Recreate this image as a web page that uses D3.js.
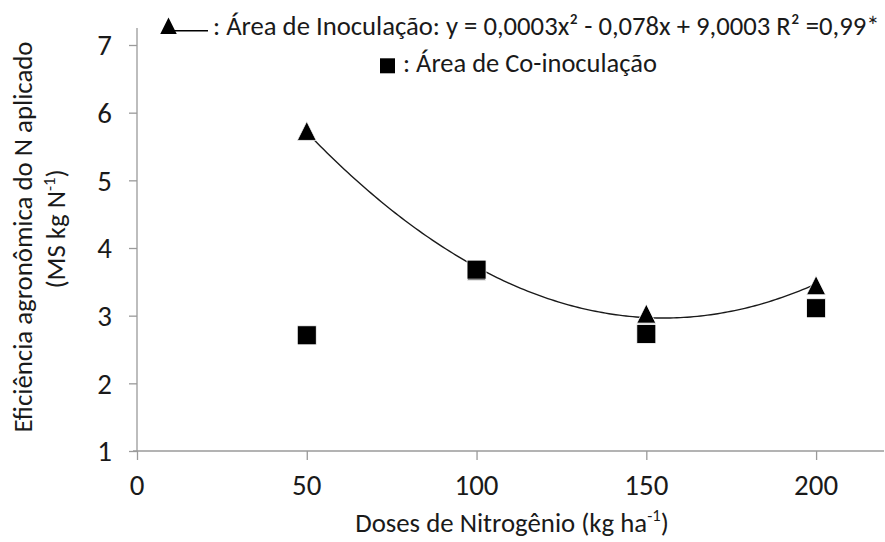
<!DOCTYPE html>
<html>
<head>
<meta charset="utf-8">
<script src="https://cdn.jsdelivr.net/npm/d3@7"></script>
<style>
  html, body { margin: 0; padding: 0; background: #fff; }
  svg { display: block; }
  text { font-family: Carlito, Calibri, "Open Sans", "Noto Sans", sans-serif; fill: #1a1a1a; }
</style>
</head>
<body>
<script>
// Nitrogen doses (kg/ha)
const doses = [50, 100, 150, 200];
// Agronomic efficiency, inoculated area (triangles)
const inoculacao = [5.73, 3.66, 3.03, 3.45];
// Agronomic efficiency, co-inoculated area (squares)
const coinoculacao = [2.71, 3.68, 2.73, 3.11];
// Axis ticks
const xTicks = [0, 50, 100, 150, 200];
const yTicks = [1, 2, 3, 4, 5, 6, 7];

const W = 885, H = 542;
const svg = d3.select("body").append("svg").attr("width", W).attr("height", H);

const x = d3.scaleLinear().domain([0, 220]).range([137, 884]);
const y = d3.scaleLinear().domain([1, 7]).range([451, 45]);

const axisColor = "#9a9a9a";

// scale a text's font size so it spans the given width
function fitWidth(sel, target) {
  const w = sel.node().getBBox().width;
  const fs = parseFloat(sel.attr("font-size"));
  sel.attr("font-size", fs * target / w);
  return fs * target / w;
}

// Y axis
const yAxis = svg.append("g").attr("transform", `translate(${x(0)},0)`)
  .call(d3.axisLeft(y).tickValues(yTicks).tickSize(8).tickFormat(d3.format("d")));
yAxis.select(".domain").remove();
yAxis.selectAll(".tick line").attr("stroke", axisColor).attr("stroke-width", 1.3);
yAxis.selectAll(".tick text").remove();
yAxis.append("line").attr("x1", 0).attr("x2", 0).attr("y1", y(1)).attr("y2", y(7.25))
  .attr("stroke", axisColor).attr("stroke-width", 1.3);

// X axis
const xAxis = svg.append("g").attr("transform", `translate(0,${y(1)})`)
  .call(d3.axisBottom(x).tickValues(xTicks).tickSize(9).tickFormat(d3.format("d")));
xAxis.select(".domain").remove();
xAxis.selectAll(".tick line").attr("stroke", axisColor).attr("stroke-width", 1.3);
xAxis.selectAll(".tick text").remove();
xAxis.append("line").attr("x1", x(0) - 4).attr("x2", x(220)).attr("y1", 0).attr("y2", 0)
  .attr("stroke", axisColor).attr("stroke-width", 1.3);

// tick label size, from the advance width of "200"
const probe = svg.append("text").attr("font-size", 20).text("200");
const tickFs = fitWidth(probe, 44);
probe.remove();

svg.append("g").selectAll("text").data(yTicks).join("text")
  .attr("x", 112).attr("y", d => y(d)).attr("dy", "0.36em")
  .attr("text-anchor", "end").attr("font-size", tickFs).text(d => d);

svg.append("g").selectAll("text").data(xTicks).join("text")
  .attr("x", d => x(d)).attr("y", 495)
  .attr("text-anchor", "middle").attr("font-size", tickFs).text(d => d);

// Axis titles
const yt1 = svg.append("text").attr("transform", "translate(32,237) rotate(-90)")
  .attr("text-anchor", "middle").attr("font-size", 22)
  .text("Eficiência agronômica do N aplicado");
const titleFs = fitWidth(yt1, 391);

const yt2 = svg.append("text").attr("transform", "translate(65,229) rotate(-90)")
  .attr("text-anchor", "middle").attr("font-size", titleFs);
yt2.append("tspan").text("(MS kg N");
yt2.append("tspan").attr("font-size", titleFs * 0.62).attr("dy", -titleFs * 0.38).text("-1");
yt2.append("tspan").attr("dy", titleFs * 0.38).text(")");

const xt = svg.append("text").attr("x", 512).attr("y", 531.5).attr("text-anchor", "middle").attr("font-size", titleFs);
xt.append("tspan").text("Doses de Nitrogênio (kg ha");
xt.append("tspan").attr("font-size", titleFs * 0.62).attr("dy", -titleFs * 0.38).text("-1");
xt.append("tspan").attr("dy", titleFs * 0.38).text(")");

// Quadratic trendline fitted to the inoculated series (least squares)
function quadFit(xs, ys) {
  const n = xs.length;
  const s = [0, 0, 0, 0, 0], t = [0, 0, 0];
  for (let i = 0; i < n; i++) {
    for (let k = 0; k < 5; k++) s[k] += Math.pow(xs[i], k);
    for (let k = 0; k < 3; k++) t[k] += ys[i] * Math.pow(xs[i], k);
  }
  const M = [[s[0], s[1], s[2], t[0]], [s[1], s[2], s[3], t[1]], [s[2], s[3], s[4], t[2]]];
  for (let i = 0; i < 3; i++) {
    for (let j = i + 1; j < 3; j++) {
      const f = M[j][i] / M[i][i];
      for (let k = i; k < 4; k++) M[j][k] -= f * M[i][k];
    }
  }
  const c = [0, 0, 0];
  for (let i = 2; i >= 0; i--) {
    let v = M[i][3];
    for (let k = i + 1; k < 3; k++) v -= M[i][k] * c[k];
    c[i] = v / M[i][i];
  }
  return c; // c0 + c1 x + c2 x^2
}
const coef = quadFit(doses, inoculacao);
const curvePts = d3.range(doses[0], doses[doses.length - 1] + 0.01, 1)
  .map(d => [d, coef[0] + coef[1] * d + coef[2] * d * d]);
svg.append("path")
  .attr("d", d3.line().x(d => x(d[0])).y(d => y(d[1]))(curvePts))
  .attr("fill", "none").attr("stroke", "#1a1a1a").attr("stroke-width", 1.4);

// markers
const triSize = 19, sqSize = 19;
function triPath(cx, cy, s) {
  const h = s;
  return `M${cx},${cy - h / 2}L${cx + s / 2},${cy + h / 2}L${cx - s / 2},${cy + h / 2}Z`;
}
svg.append("g").selectAll("path").data(doses).join("path")
  .attr("d", (d, i) => triPath(x(d), y(inoculacao[i]), triSize))
  .attr("fill", "#000").attr("stroke", "#fff").attr("stroke-width", 0.8);

svg.append("g").selectAll("rect").data(doses).join("rect")
  .attr("x", d => x(d) - sqSize / 2).attr("y", (d, i) => y(coinoculacao[i]) - sqSize / 2)
  .attr("width", sqSize).attr("height", sqSize)
  .attr("fill", "#000").attr("stroke", "#fff").attr("stroke-width", 0.8);

// Legend
const lg = svg.append("g");
lg.append("line").attr("x1", 172).attr("x2", 208).attr("y1", 30.7).attr("y2", 30.7)
  .attr("stroke", "#000").attr("stroke-width", 1.6);
lg.append("path").attr("d", triPath(168.5, 25.8, 16.5)).attr("fill", "#000");
const l1 = lg.append("text").attr("x", 213).attr("y", 35).attr("font-size", 22)
  .text(": Área de Inoculação: y = 0,0003x² - 0,078x + 9,0003 R² =0,99*");
fitWidth(l1, 667);

lg.append("rect").attr("x", 380).attr("y", 58.3).attr("width", 15).attr("height", 15).attr("fill", "#000");
const l2 = lg.append("text").attr("x", 403).attr("y", 71.7).attr("font-size", 22)
  .text(": Área de Co-inoculação");
fitWidth(l2, 254);
</script>
</body>
</html>
